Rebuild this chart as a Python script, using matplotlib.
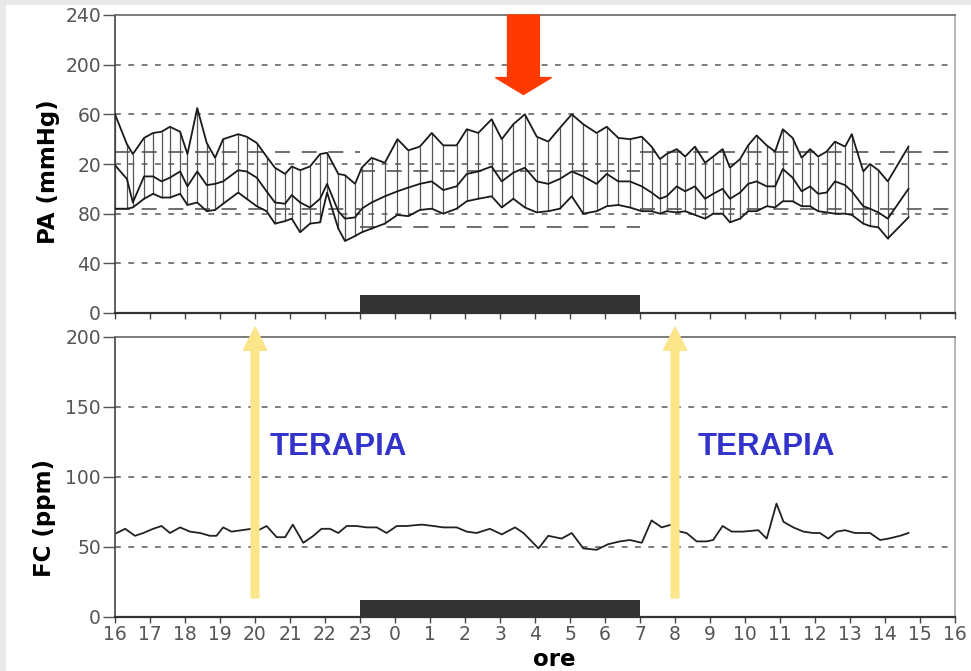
import numpy as np
import matplotlib.pyplot as plt
from matplotlib.patches import FancyArrow, Rectangle

# ore trascorse dalle 16:00
pa_time = [0.00, 0.34, 0.51, 0.83, 1.09, 1.33, 1.57, 1.86, 2.07, 2.35,
           2.62, 2.86, 3.09, 3.52, 3.76, 4.05, 4.33, 4.57, 4.86, 5.05,
           5.29, 5.57, 5.86, 6.06, 6.38, 6.57, 6.86, 7.05, 7.33, 7.71,
           8.07, 8.38, 8.71, 9.05, 9.38, 9.76, 10.05, 10.38, 10.76, 11.05,
           11.38, 11.71, 12.05, 12.38, 12.71, 13.05, 13.38, 13.76, 14.05, 14.38,
           14.71, 15.05, 15.33, 15.57, 15.76, 16.05, 16.29, 16.57, 16.86, 17.09,
           17.36, 17.57, 17.86, 18.09, 18.33, 18.62, 18.86, 19.08, 19.36, 19.62,
           19.86, 20.09, 20.33, 20.57, 20.86, 21.05, 21.38, 21.57, 21.81, 22.08,
           22.67]
pa_sys = [160, 136, 128, 141, 145, 146, 150, 146, 128, 165,
          137, 125, 140, 144, 142, 137, 126, 117, 112, 118,
          115, 118, 128, 129, 112, 111, 104, 117, 125, 121,
          140, 131, 134, 145, 135, 135, 148, 145, 156, 140,
          152, 160, 142, 138, 149, 160, 152, 145, 150, 141,
          140, 142, 134, 124, 128, 132, 126, 134, 121, 126,
          132, 117, 124, 135, 143, 135, 130, 148, 141, 125,
          132, 126, 130, 138, 134, 144, 114, 120, 115, 106,
          134]
pa_mean = [119, 108, 89, 110, 110, 106, 109, 114, 102, 114,
           103, 104, 106, 115, 114, 109, 98, 89, 88, 95,
           89, 85, 92, 104, 82, 76, 77, 84, 89, 94,
           98, 101, 104, 106, 99, 102, 112, 114, 118, 106,
           113, 117, 106, 104, 108, 114, 110, 104, 112, 106,
           106, 102, 97, 92, 94, 102, 98, 102, 92, 96,
           100, 92, 97, 104, 106, 102, 102, 116, 109, 98,
           102, 96, 97, 106, 103, 98, 86, 84, 81, 76,
           100]
pa_dia = [84, 84, 85, 92, 96, 93, 93, 96, 87, 89,
          82, 83, 88, 97, 92, 86, 82, 72, 74, 76,
          65, 72, 73, 97, 68, 58, 62, 65, 68, 72,
          79, 78, 83, 84, 80, 84, 90, 92, 94, 85,
          92, 85, 81, 82, 84, 94, 80, 82, 86, 87,
          85, 82, 82, 80, 82, 81, 82, 79, 76, 80,
          80, 73, 76, 82, 82, 86, 85, 90, 90, 86,
          86, 82, 81, 80, 80, 79, 72, 70, 69, 60,
          77]

fc_time = [0.05, 0.29, 0.57, 0.81, 1.09, 1.33, 1.57, 1.86, 2.14, 2.43,
           2.71, 2.90, 3.09, 3.33, 3.62, 3.90, 4.10, 4.33, 4.62, 4.86,
           5.08, 5.38, 5.67, 5.90, 6.14, 6.38, 6.62, 6.90, 7.19, 7.48,
           7.76, 8.05, 8.33, 8.76, 9.10, 9.38, 9.76, 10.05, 10.33, 10.71,
           11.05, 11.43, 11.67, 12.10, 12.38, 12.76, 13.05, 13.38, 13.76, 14.09,
           14.43, 14.71, 15.05, 15.33, 15.62, 15.90, 16.14, 16.33, 16.62, 16.90,
           17.09, 17.36, 17.62, 17.95, 18.38, 18.62, 18.90, 19.10, 19.38, 19.67,
           19.95, 20.14, 20.38, 20.62, 20.86, 21.14, 21.57, 21.86, 22.10, 22.43,
           22.67]
fc_val = [60, 63, 58, 60, 63, 65, 60, 64, 61, 60,
          58, 58, 64, 61, 62, 63, 62, 65, 57, 57,
          66, 53, 58, 63, 63, 60, 65, 65, 64, 64,
          60, 65, 65, 66, 65, 64, 64, 61, 60, 63,
          59, 64, 60, 49, 58, 56, 60, 49, 48, 52,
          54, 55, 53, 69, 64, 66, 61, 60, 54, 54,
          55, 65, 61, 61, 62, 56, 81, 68, 64, 61,
          60, 60, 56, 61, 62, 60, 60, 55, 56, 58,
          60]

hour_labels = ['16', '17', '18', '19', '20', '21', '22', '23', '0', '1', '2', '3', '4',
               '5', '6', '7', '8', '9', '10', '11', '12', '13', '14', '15', '16']
pa_ticks = [0, 40, 80, 120, 160, 200, 240]
pa_ticklabels = ['0', '40', '80', '20', '60', '200', '240']
fc_ticks = [0, 50, 100, 150, 200]
fc_ticklabels = ['0', '50', '100', '150', '200']

# soglie (inizio, fine, sistolica, diastolica)
limits = [(0, 7, 130, 84), (7, 15, 114, 69), (15, 24, 130, 84)]
night = (7, 15)
therapy_times = [4, 16]
therapy_text_x = [4.43, 16.66]
alert_time = 11.67

fig = plt.figure(figsize=(9.71, 6.71), dpi=100)
fig.patch.set_facecolor('#e8e8e8')
fig.add_artist(Rectangle((6 / 971, 0), 1, 1 - 5 / 671, transform=fig.transFigure,
                         facecolor='white', edgecolor='none', zorder=-5))

ax1 = fig.add_axes([115 / 971, 1 - 313 / 671, 840 / 971, 298 / 671])
ax2 = fig.add_axes([115 / 971, 1 - 617 / 671, 840 / 971, 280 / 671])

for ax in (ax1, ax2):
    ax.set_facecolor('none')
    ax.set_xlim(0, 24)
    ax.set_xticks(np.arange(25))
    ax.tick_params(axis='x', direction='out', length=4, width=1, color='#444',
                   labelsize=13.5, labelcolor='#555', pad=2)
    ax.tick_params(axis='y', direction='out', length=8.5, width=1, color='#555',
                   labelsize=13.5, labelcolor='#555', pad=1.5)
    ax.spines['left'].set_color('#444')
    ax.spines['left'].set_linewidth(1.2)
    ax.spines['bottom'].set_color('#333')
    ax.spines['bottom'].set_linewidth(1.6)
    ax.spines['top'].set_color('#666')
    ax.spines['top'].set_linewidth(1.2)
    ax.spines['right'].set_color('#aaa')
    ax.spines['right'].set_linewidth(1.2)

# --- PA ---
ax1.set_ylim(0, 240)
ax1.set_yticks(pa_ticks)
ax1.set_yticklabels(pa_ticklabels)
ax1.set_xticklabels([])
for v in pa_ticks[1:-1]:
    ax1.axhline(v, color='#666', lw=1.2, ls=(0, (3.5, 4.5)), zorder=1)
for t0, t1, s, d in limits:
    ax1.hlines([s, d], t0, t1, color='#555', lw=1.2, ls=(0, (9, 7)), zorder=1)

ax1.vlines(pa_time, pa_dia, pa_sys, color='#555', lw=0.9, zorder=2)
for serie in (pa_sys, pa_mean, pa_dia):
    ax1.plot(pa_time, serie, color='#1a1a1a', lw=1.3, zorder=3)

ax1.add_patch(Rectangle((night[0], 0), night[1] - night[0], 14.5,
                        facecolor='#333', edgecolor='none', zorder=4))
ax1.add_patch(FancyArrow(alert_time, 240, 0, -64, width=0.91, head_width=1.6,
                         head_length=13.6, length_includes_head=True,
                         color='#ff3a00', clip_on=False, zorder=6))

# --- FC ---
ax2.set_ylim(0, 200)
ax2.set_yticks(fc_ticks)
ax2.set_yticklabels(fc_ticklabels)
ax2.set_xticklabels(hour_labels)
for v in fc_ticks[1:-1]:
    ax2.axhline(v, color='#666', lw=1.2, ls=(0, (3.5, 4.5)), zorder=1)
ax2.plot(fc_time, fc_val, color='#222', lw=1.3, zorder=3)
ax2.add_patch(Rectangle((night[0], 0), night[1] - night[0], 12.2,
                        facecolor='#333', edgecolor='none', zorder=4))

for t, tx in zip(therapy_times, therapy_text_x):
    ax2.add_patch(FancyArrow(t, 13.6, 0, 207 - 13.6, width=0.22, head_width=0.67,
                             head_length=16.5, length_includes_head=True,
                             color='#fde58a', clip_on=False, zorder=6))
    ax2.text(tx, 121.6, 'TERAPIA', color='#3333cc', fontsize=22.5, fontweight='bold',
             family='Liberation Sans', ha='left', va='center')

fig.text(48 / 971, 1 - 172 / 671, 'PA (mmHg)', rotation=90, fontsize=16.5,
         fontweight='bold', ha='center', va='center')
fig.text(45 / 971, 1 - 518 / 671, 'FC (ppm)', rotation=90, fontsize=16.5,
         fontweight='bold', ha='center', va='center')
fig.text(554 / 971, 1 - 660 / 671, 'ore', fontsize=16.5, fontweight='bold',
         ha='center', va='center')

fig.savefig('out.png', dpi=100, facecolor=fig.get_facecolor())
